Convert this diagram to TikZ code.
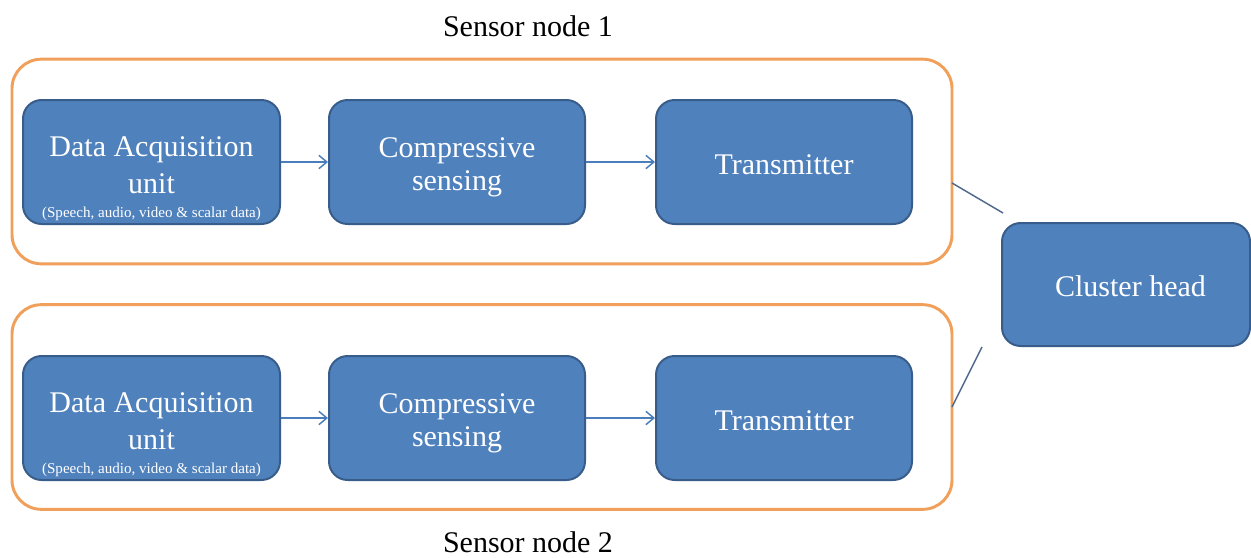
\documentclass[tikz,border=0pt]{standalone}
\usepackage{fontspec}
\setmainfont{Liberation Serif}
\usetikzlibrary{arrows.meta}
\definecolor{boxfill}{RGB}{79,129,189}
\definecolor{boxline}{RGB}{56,93,138}
\definecolor{nodeframe}{RGB}{240,160,90}
\definecolor{flow}{RGB}{74,126,187}
\definecolor{link}{RGB}{80,105,140}
\begin{document}
\begin{tikzpicture}[x=0.75pt,y=-0.75pt,
  block/.style={draw=boxline, fill=boxfill, line width=1.5pt, rounded corners=14pt,
    minimum width=192pt, minimum height=93pt, inner sep=0pt},
  frame/.style={draw=nodeframe, line width=2.2pt, rounded corners=22pt,
    minimum width=705pt, minimum height=153.5pt, inner sep=0pt},
  big/.style={text=white, font=\fontsize{22.5}{27}\selectfont, anchor=base, inner sep=0pt},
  small/.style={text=white, font=\fontsize{11.3}{13}\selectfont, anchor=base, inner sep=0pt},
  caption/.style={font=\fontsize{22.5}{27}\selectfont, anchor=base, inner sep=0pt},
  flowarrow/.style={draw=flow, line width=1.1pt, -{Straight Barb[length=6pt,width=10pt]}},
  linkline/.style={draw=link, line width=1.1pt}]
\useasboundingbox (0,0) rectangle (1251,557);
\fill[white] (0,0) rectangle (1251,557);

% sensor node frames
\node[frame] (sn1) at (482,161.5) {};
\node[frame] (sn2) at (482,407) {};
\node[caption] (cap1) at (528,36) {Sensor node 1};
\node[caption] (cap2) at (528,552) {Sensor node 2};

% sensor node 1
\node[block, minimum width=192.75pt] (da1) at (151.5,162) {};
\node[block] (cs1) at (457,162) {};
\node[block] (tx1) at (784,162) {};
\node[big] (da1a) at (151.5,156) {Data Acquisition};
\node[big] (da1b) at (151.5,193) {unit};
\node[small] (da1c) at (151.5,217) {(Speech, audio, video \& scalar data)};
\node[big] (cs1a) at (457,157) {Compressive};
\node[big] (cs1b) at (457,190) {sensing};
\node[big] (tx1a) at (784,174) {Transmitter};

% sensor node 2
\node[block, minimum width=192.75pt] (da2) at (151.5,418) {};
\node[block] (cs2) at (457,418) {};
\node[block] (tx2) at (784,418) {};
\node[big] (da2a) at (151.5,412) {Data Acquisition};
\node[big] (da2b) at (151.5,449) {unit};
\node[small] (da2c) at (151.5,473) {(Speech, audio, video \& scalar data)};
\node[big] (cs2a) at (457,413) {Compressive};
\node[big] (cs2b) at (457,446) {sensing};
\node[big] (tx2a) at (784,430) {Transmitter};

% cluster head
\node[block, minimum width=186pt, minimum height=92.25pt] (ch) at (1126,284.5) {};
\node[big] (cha) at (1130.5,296) {Cluster head};

% data flow inside each sensor node
\draw[flowarrow] (da1) -- (cs1);
\draw[flowarrow] (cs1) -- (tx1);
\draw[flowarrow] (da2) -- (cs2);
\draw[flowarrow] (cs2) -- (tx2);

% links towards the cluster head
\coordinate (l1a) at (952,183);
\coordinate (l1b) at (1003,213);
\coordinate (l2a) at (952,407);
\coordinate (l2b) at (982,347);
\draw[linkline] (l1a) -- (l1b);
\draw[linkline] (l2a) -- (l2b);
\end{tikzpicture}
\end{document}
